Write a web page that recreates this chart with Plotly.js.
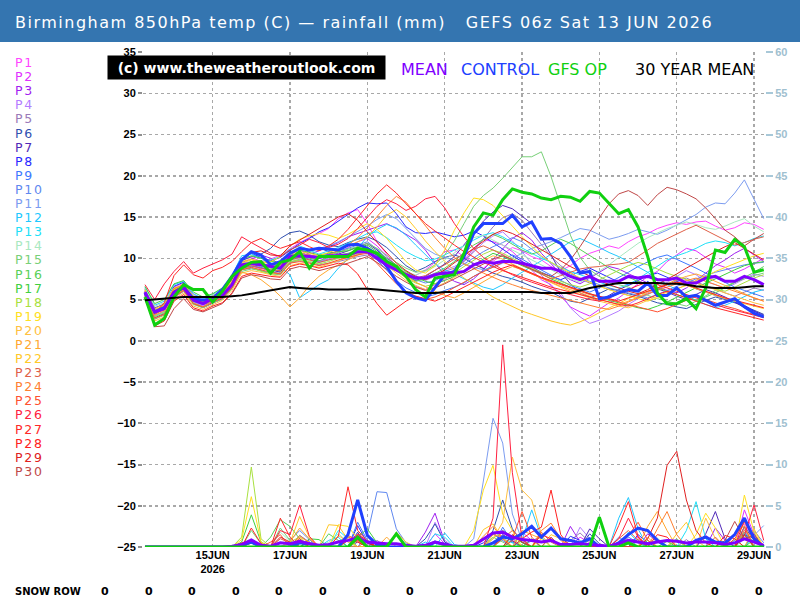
<!DOCTYPE html>
<html>
<head>
<meta charset="utf-8">
<script src="https://cdn.plot.ly/plotly-3.0.1.min.js"></script>
<style>body{margin:0;background:#fff;}#chart{width:800px;height:600px;}</style>
</head>
<body>
<div id="chart"></div>
<script>
// ---------- DATA ----------
const runStartUTC = [2026, 5, 13, 6]; // 13 JUN 2026 06z
const stepHours = 6;

const memberNames = ['P1','P2','P3','P4','P5','P6','P7','P8','P9','P10','P11','P12','P13','P14','P15',
  'P16','P17','P18','P19','P20','P21','P22','P23','P24','P25','P26','P27','P28','P29','P30'];
const memberColors = ['#ff44ff','#e030ff','#a020f0','#b47cff','#9a7ab8','#3050b0','#5028b8','#2828ff','#3c78ff','#6088f0',
  '#7c9cf0','#20c8ff','#20e0f8','#a8e8c0','#78d078','#58d058','#40d040','#a8e040','#ffe020','#ffc040',
  '#ffa830','#ffc828','#e06048','#ff8030','#ff5030','#ff2040','#ff2828','#ff2020','#e02020','#c04848'];

// 850hPa temperature (C), 6-hourly, 65 values each
const tP1 = [6.2,3.8,4.1,6.5,7.0,5.6,5.0,5.4,6.1,7.5, 9.8,10.1,9.6,9.9,10.4,11.2,11.9,12.5,13.0,13.6, 14.8,15.5,15.9,14.2,12.0,10.5,9.0,8.1,7.9,8.6, 9.5,10.8,11.0,10.2,9.4,8.8,9.6,10.4,11.3,10.9, 10.2,9.8,9.0,8.5,9.1,10.0,10.6,11.0,11.5,11.2, 12.0,12.6,13.0,13.6,14.0,14.3,14.1,14.4,14.5,13.9, 13.4,13.7,14.3,14.1,13.5];
const tP2 = [5.5,3.0,3.6,5.2,6.0,4.6,4.2,4.8,5.2,6.5, 8.7,9.2,8.8,8.4,8.1,9.5,9.9,10.3,9.7,9.9, 10.6,11.3,12.0,12.4,11.5,10.2,9.0,7.6,6.6,6.2, 6.8,7.4,8.3,9.8,11.2,12.3,12.0,11.6,10.8,9.7, 8.5,7.4,6.8,5.5,4.1,3.5,3.0,3.8,4.6,5.2, 6.0,6.9,7.8,8.4,9.6,10.4,11.2,10.9,10.1,9.3, 8.9,8.2,8.7,9.4,10.0];
const tP3 = [6.0,3.4,3.7,5.8,6.7,5.1,4.4,4.7,5.6,7.2, 9.5,9.9,10.4,10.0,9.2,10.6,11.0,10.5,10.9,11.4, 11.9,12.6,13.0,13.4,13.8,14.2,13.6,12.9,12.2,11.0, 9.4,8.0,7.2,6.8,7.5,8.6,9.9,11.2,12.4,13.1, 12.2,10.6,9.3,8.1,7.4,6.9,7.6,8.3,9.0,8.7, 8.1,7.6,7.0,6.5,6.1,5.8,6.4,7.3,8.2,9.1, 9.8,10.6,11.2,10.4,9.6];
const tP4 = [5.6,3.2,4.0,6.1,6.2,4.7,4.3,5.3,5.8,7.0, 9.0,9.1,8.7,8.9,9.3,10.0,10.1,9.8,9.6,10.0, 10.2,10.0,10.5,11.0,10.1,9.4,8.8,8.2,7.9,7.3, 7.8,8.6,9.0,9.6,10.8,11.9,12.7,13.2,12.1,10.8, 9.3,7.9,6.6,5.8,4.0,2.9,2.1,2.5,3.1,3.6, 4.4,5.1,5.8,6.3,7.1,7.8,8.5,8.0,7.2,6.8, 6.3,6.9,7.6,8.1,7.8];
const tP5 = [6.1,3.9,4.5,6.3,6.6,5.3,4.9,5.5,5.9,6.9, 8.6,8.8,8.5,8.2,8.4,9.6,9.7,9.5,9.2,9.4, 9.6,9.9,10.2,10.4,9.8,9.0,8.4,7.9,7.5,7.7, 8.2,8.4,8.8,9.6,10.9,12.3,13.8,14.9,15.4,14.6, 13.1,11.7,10.2,9.1,8.3,7.5,7.0,6.6,6.2,5.9, 5.5,5.2,5.6,6.2,6.8,7.3,7.6,7.1,6.7,6.3, 5.8,5.4,5.9,6.4,6.1];
const tP6 = [5.8,3.6,4.3,6.0,6.5,5.0,4.6,5.2,5.7,7.4, 9.7,10.2,10.5,11.2,12.4,13.1,13.3,12.8,12.0,11.6, 11.4,11.9,12.3,12.6,12.1,11.3,10.2,9.1,8.4,8.9, 9.6,10.1,10.4,10.0,9.3,8.7,8.2,7.8,7.5,7.1, 6.6,6.2,5.9,5.3,4.8,4.6,5.2,5.8,6.3,6.1, 5.7,5.4,5.0,4.6,4.4,4.1,3.9,4.4,4.9,5.3, 5.0,4.6,4.2,3.7,3.2];
const tP7 = [5.4,2.8,3.3,5.5,6.3,4.5,4.0,4.6,5.1,6.4, 8.9,9.3,9.0,8.6,8.3,9.9,10.4,10.9,11.3,10.8, 10.5,10.9,11.4,11.8,11.0,9.8,8.7,7.9,7.3,7.8, 8.5,9.3,10.2,11.6,13.1,14.5,15.6,16.4,16.0,15.1, 14.2,12.5,10.4,8.3,6.9,5.8,5.3,4.8,5.5,6.2, 6.7,7.2,6.8,6.3,5.9,5.4,5.0,5.6,6.2,5.8, 5.3,4.7,4.0,3.6,3.1];
const tP8 = [6.3,4.0,4.4,6.6,7.1,5.4,4.8,5.0,5.9,7.6, 10.0,10.6,10.1,9.7,10.1,10.9,11.8,12.4,13.2,13.7, 14.5,15.2,16.1,16.7,16.6,16.7,15.4,13.8,13.1,13.0, 13.2,12.9,12.6,12.8,13.3,12.7,11.9,11.0,10.3,9.6, 8.9,8.3,7.8,7.4,7.9,8.4,8.8,8.2,7.6,7.1, 6.8,7.3,7.9,8.2,7.7,7.2,6.8,6.3,5.9,5.5, 5.1,4.7,4.3,3.6,2.8];
const tP9 = [5.7,3.3,3.8,5.9,6.4,4.8,4.4,5.0,5.5,6.6, 8.8,9.0,8.9,8.5,8.6,9.8,10.0,9.9,9.5,9.8, 10.0,10.3,10.6,10.9,9.8,8.5,7.3,6.4,5.8,5.3, 5.6,6.1,6.5,7.0,7.8,8.5,9.1,9.8,10.4,9.9, 9.2,8.6,8.0,7.3,6.7,6.3,5.9,6.4,7.0,7.7, 8.3,9.0,9.6,10.1,10.4,9.9,9.3,8.8,8.2,7.6, 7.0,6.5,6.1,5.7,5.3];
const tP10 = [6.0,3.7,4.2,6.2,6.6,5.2,4.7,5.3,5.6,6.9, 9.3,9.6,9.4,9.1,9.0,10.4,10.6,10.4,10.2,10.5, 10.9,11.2,11.6,12.0,11.1,10.0,8.9,8.0,7.4,7.0, 7.3,7.9,8.5,9.3,10.1,10.8,11.4,11.9,12.5,12.0, 11.1,10.2,9.5,8.7,8.1,7.6,7.2,6.8,6.4,6.1, 5.8,5.5,5.2,5.6,6.1,6.6,7.0,7.5,7.9,8.3, 8.6,8.9,9.2,9.4,9.5];
const tP11 = [5.9,3.5,4.0,6.0,6.5,5.0,4.6,5.2,5.7,7.1, 9.2,9.5,9.3,9.2,9.4,10.3,10.5,10.8,11.2,11.5, 12.0,12.6,13.2,13.9,14.7,15.3,14.8,13.6,12.3,11.2, 10.5,10.1,9.8,9.4,8.9,8.6,8.9,9.4,10.0,10.6, 11.2,11.6,12.0,12.5,13.1,13.6,13.4,12.8,12.3,12.6, 13.0,13.5,13.2,12.9,13.4,14.0,14.6,15.3,16.2,16.7, 16.6,17.9,19.5,17.2,14.8];
const tP12 = [6.5,4.3,4.8,6.8,7.2,5.7,5.1,5.6,6.3,7.9, 10.3,10.5,10.0,9.4,8.9,8.0,5.2,6.0,6.8,7.4, 8.8,9.9,11.2,12.6,13.5,14.1,13.7,12.8,11.6,10.4, 9.3,8.6,8.1,7.5,7.0,6.5,6.2,6.8,7.6,8.3, 8.9,9.7,10.5,11.3,12.0,12.4,11.9,11.3,10.7,10.2, 9.6,9.0,8.3,7.5,6.8,6.1,5.5,4.9,4.4,4.0, 4.3,4.8,5.4,5.9,6.2];
const tP13 = [5.6,3.0,3.5,5.7,6.4,4.8,4.5,5.4,5.8,7.0, 9.1,9.4,9.6,9.8,10.2,11.1,11.5,11.0,10.5,10.9, 11.3,11.8,12.4,13.0,13.2,12.5,11.6,10.8,10.2,9.7, 9.9,10.4,11.0,11.5,12.2,12.8,13.1,12.6,11.9,11.2, 10.6,10.0,9.5,8.9,8.4,8.0,7.6,7.1,6.7,6.4, 6.8,7.5,8.3,9.1,9.8,10.3,10.7,11.2,11.8,12.1, 11.9,11.5,11.9,12.4,12.7];
const tP14 = [6.4,4.2,4.6,6.4,6.8,5.5,5.0,5.6,6.0,7.3, 9.4,9.6,9.0,8.7,8.5,9.7,10.0,9.7,9.4,9.8, 10.1,10.4,10.9,11.3,10.6,9.7,8.9,8.3,8.0,8.4, 9.0,9.8,10.6,11.5,12.5,12.8,12.2,11.6,11.0,10.4, 9.8,9.1,8.5,8.0,7.5,7.1,7.7,8.4,9.2,10.1, 11.0,11.8,12.5,13.1,13.6,14.0,14.4,14.1,13.7,13.5, 13.9,14.4,14.8,13.9,13.2];
const tP15 = [5.2,2.6,3.1,5.3,6.0,4.4,4.0,4.6,5.0,6.3, 8.4,8.7,8.5,8.1,8.0,9.4,9.8,10.2,10.0,10.3, 10.7,11.1,11.4,11.8,11.2,10.3,9.5,8.8,8.3,8.5, 9.2,10.4,12.1,14.2,16.3,17.6,18.5,19.7,21.0,22.3, 22.3,22.9,19.9,16.2,12.8,10.1,8.6,7.8,7.2,6.8, 6.5,6.0,5.5,5.1,4.8,4.5,4.2,4.8,5.5,6.1, 6.6,7.1,7.5,7.9,8.2];
const tP16 = [5.9,3.4,4.0,6.1,6.9,5.3,4.7,5.1,5.4,6.7, 9.0,9.3,9.1,8.8,8.7,10.0,10.2,10.0,9.7,10.1, 10.4,10.6,11.0,11.2,10.5,9.5,8.7,7.9,7.2,7.5, 8.1,8.8,9.6,10.7,11.6,12.3,12.9,12.4,11.7,11.0, 10.5,10.9,11.6,12.3,11.8,11.1,10.3,9.6,8.8,8.2, 7.7,7.2,6.8,6.4,6.0,5.6,5.2,4.9,5.3,5.8, 6.4,7.0,7.6,8.3,9.0];
const tP17 = [6.6,4.5,5.0,6.9,7.3,5.9,5.3,5.7,6.4,7.8, 9.9,10.3,10.0,9.6,9.5,10.8,11.0,10.7,10.4,10.6, 10.8,10.9,11.3,11.6,10.8,9.9,9.2,8.4,7.7,7.2, 6.9,7.3,7.8,8.5,9.3,10.0,10.6,10.2,9.6,9.1, 8.6,8.1,7.5,7.0,6.5,6.1,5.7,5.3,4.9,4.6, 4.3,4.0,3.8,4.2,4.7,5.3,5.9,6.4,7.0,7.5, 8.1,8.6,9.1,9.4,9.6];
const tP18 = [5.3,2.9,3.4,5.6,6.1,4.6,4.1,4.9,5.3,6.6, 8.7,8.9,8.4,8.1,8.2,9.6,9.8,9.6,9.3,9.6, 10.0,10.2,10.6,10.9,10.2,9.3,8.4,7.6,7.0,6.6, 6.9,7.5,8.2,9.0,9.8,10.5,11.0,10.6,10.0,9.4, 8.8,8.2,7.7,7.2,6.8,6.5,6.9,7.4,8.0,8.6, 9.1,9.5,9.2,8.7,8.2,7.8,7.4,7.0,6.6,6.3, 6.0,6.5,7.1,7.6,8.0];
const tP19 = [6.1,3.7,4.3,6.2,6.9,5.4,4.8,5.4,6.0,7.3, 9.4,9.8,9.5,9.6,10.2,11.5,12.3,12.7,13.0,12.8, 12.4,12.9,13.5,14.2,13.5,12.4,11.0,9.6,8.6,8.2, 9.1,11.0,13.4,15.5,17.3,17.1,16.4,15.2,13.9,12.6, 11.4,10.3,9.5,8.8,8.2,7.6,7.1,6.6,6.2,5.8, 5.5,5.1,4.8,5.2,5.7,6.3,6.8,7.3,7.8,8.4, 8.9,9.4,9.9,10.3,10.6];
const tP20 = [5.0,2.4,2.9,5.0,5.8,4.2,3.8,4.4,4.9,6.1, 8.2,8.5,8.3,8.0,7.8,9.1,9.4,9.2,8.9,9.3, 9.7,10.1,10.4,10.8,10.0,9.1,8.1,7.3,6.7,6.2, 6.5,7.0,7.7,8.4,9.1,9.7,10.3,9.9,9.3,8.7, 8.2,7.6,7.0,6.5,6.0,5.6,5.2,4.8,4.5,4.2, 4.0,4.4,4.9,5.4,5.9,6.3,6.7,7.0,6.6,6.2, 5.8,5.4,5.0,4.6,4.3];
const tP21 = [5.7,3.1,3.6,5.4,6.2,4.9,4.5,5.1,5.7,6.9, 8.3,8.0,7.4,6.5,5.4,4.1,5.2,6.7,7.8,8.6, 9.2,9.8,10.3,11.0,10.4,9.5,8.6,7.8,7.1,6.5, 6.0,5.5,5.2,5.8,6.5,7.2,7.9,8.5,9.0,8.6, 8.1,7.6,7.1,6.6,6.2,5.8,5.4,5.0,4.7,4.4, 4.8,5.3,5.9,6.4,6.9,7.4,7.8,8.1,7.7,7.2, 6.7,6.2,5.7,5.2,4.8];
const tP22 = [6.2,3.9,4.4,6.4,6.7,5.2,4.7,5.3,5.9,7.2, 9.6,9.9,9.6,9.3,9.3,10.5,10.8,10.6,10.3,10.7, 11.1,11.5,12.0,12.6,13.8,15.2,15.9,15.0,13.6,12.1, 10.8,9.6,8.5,7.6,6.8,6.0,5.3,4.7,4.1,3.6, 3.2,2.8,2.4,2.1,1.9,2.3,2.8,3.4,4.0,4.6, 5.1,5.6,6.0,6.4,6.8,7.1,6.7,6.3,5.9,5.5, 5.1,4.8,4.5,4.2,3.9];
const tP23 = [5.5,3.2,3.8,5.9,6.6,5.0,4.4,4.9,5.3,6.6, 8.8,9.1,8.8,8.6,8.5,9.8,10.1,9.8,9.5,9.8, 10.1,10.3,10.7,11.1,10.4,9.6,8.9,8.2,7.6,7.9, 8.5,9.2,9.9,10.5,11.1,11.5,11.0,10.4,9.8,9.2, 8.6,8.0,7.5,7.9,8.3,8.7,8.9,9.0,9.2,9.3, 9.5,10.2,11.0,11.8,12.4,12.9,13.5,14.0,13.4,12.7, 12.1,11.6,11.9,12.3,12.6];
const tP24 = [6.0,3.6,4.1,6.3,6.8,5.2,4.6,5.2,5.8,7.0, 9.2,9.5,9.2,9.0,9.1,10.3,10.6,10.4,10.1,10.4, 10.9,11.6,12.5,13.7,15.1,16.4,17.5,16.8,15.4,13.9, 12.5,11.2,10.1,9.3,8.7,8.2,7.7,7.2,6.8,6.4, 6.1,5.8,5.5,5.2,4.9,4.6,4.3,4.0,3.8,4.2, 4.7,5.2,5.7,6.1,6.5,6.9,7.3,7.6,7.2,6.8, 6.4,6.0,5.6,5.2,4.8];
const tP25 = [5.4,2.7,3.2,5.3,6.1,4.5,4.1,4.7,5.2,6.4, 8.6,8.9,8.6,8.3,8.1,9.4,9.6,9.4,9.1,9.4, 9.8,10.1,10.4,10.6,9.4,8.1,6.9,6.0,5.4,5.0, 5.3,5.8,6.4,7.1,7.8,8.4,9.0,9.5,9.1,8.6, 8.1,7.6,7.2,6.8,6.4,6.0,5.6,5.3,5.0,4.7, 4.4,4.1,3.8,3.5,3.9,4.4,4.9,5.4,5.0,4.6, 4.2,3.9,3.5,3.2,2.9];
const tP26 = [6.8,5.0,6.9,8.4,9.6,8.2,8.8,9.3,9.8,10.5, 12.6,11.9,11.2,10.6,10.2,11.0,11.6,12.3,11.9,11.3, 11.7,12.4,13.6,14.9,16.3,17.1,16.6,15.8,16.3,17.2, 17.5,16.1,14.2,12.6,11.2,10.1,9.3,8.6,8.0,7.5, 7.1,6.7,6.3,5.9,5.6,5.3,5.0,4.8,5.2,5.7, 6.2,6.7,7.1,6.8,6.4,6.0,5.6,5.2,4.8,4.4, 4.0,3.7,3.4,3.1,2.8];
const tP27 = [5.8,3.3,4.6,7.9,9.2,8.0,7.6,8.5,8.9,9.6, 10.8,11.9,12.4,11.7,11.2,11.6,12.0,11.4,10.9,11.5, 12.3,13.5,14.9,16.4,17.8,18.9,17.9,16.6,15.4,14.2, 13.3,12.4,11.6,10.8,10.1,9.5,9.0,8.5,8.1,7.7, 7.3,6.9,6.5,6.2,5.9,5.6,5.3,5.0,4.7,4.4, 4.2,4.6,5.1,5.6,6.0,5.6,5.2,4.8,4.4,4.0, 3.7,3.4,3.1,2.8,2.5];
const tP28 = [5.1,1.8,2.4,4.8,5.6,4.0,3.6,4.2,4.6,5.8, 7.8,8.2,8.0,7.8,7.7,9.0,9.3,9.1,8.8,9.1, 9.4,9.2,8.1,6.2,4.5,3.1,3.9,4.8,5.4,5.1, 4.8,5.3,5.9,6.5,7.2,7.8,8.3,8.8,9.2,8.7, 8.2,7.7,7.3,6.9,6.5,6.1,5.7,5.4,5.1,4.8, 5.2,5.6,6.0,6.4,6.8,7.1,6.8,6.4,6.0,5.6, 5.2,4.9,4.6,4.3,4.0];
const tP29 = [5.8,3.4,4.0,6.0,6.7,5.1,4.6,5.3,5.9,7.5, 9.9,10.7,10.9,10.4,10.3,11.5,12.2,12.9,13.6,14.3, 15.0,15.4,14.6,13.2,11.9,10.6,9.4,8.5,7.8,7.4, 7.9,8.6,9.4,10.3,11.2,12.1,12.9,13.4,13.0,12.4, 11.7,11.0,10.3,9.6,9.0,8.4,7.8,7.3,6.8,6.4, 6.0,5.7,6.2,6.8,7.4,8.1,8.8,9.5,10.2,10.8, 11.4,11.9,11.2,10.5,9.8];
const tP30 = [5.6,1.7,1.8,3.9,5.1,3.8,3.5,4.0,4.5,5.7, 7.6,8.0,7.8,7.5,7.4,8.7,9.0,8.8,8.5,8.8, 9.1,9.4,9.8,10.2,9.5,8.6,7.8,7.1,6.5,6.1, 6.4,6.9,7.5,8.1,8.8,9.4,9.9,10.3,9.8,9.2, 8.7,8.2,7.8,8.6,9.8,11.4,13.2,14.9,16.6,17.8, 18.2,17.6,16.4,17.7,18.6,18.3,17.8,17.2,16.1,14.8, 13.4,12.6,11.5,12.3,13.0];

const tMean = [5.9,3.5,3.9,5.9,6.4,4.9,4.5,5.1,5.5,6.8, 9.2,9.4,9.2,9.0,8.8,10.2,10.3,10.2,10.1,10.3, 10.3,10.4,10.8,10.8,10.0,9.2,8.6,8.0,7.6,7.6, 8.0,8.2,8.2,8.4,9.2,9.6,9.4,9.6,9.6,9.4, 9.1,8.8,8.8,8.4,7.8,7.4,7.8,7.2,7.2,7.2, 7.8,7.6,7.8,7.4,7.4,7.6,7.0,7.0,7.6,7.8, 7.2,7.2,7.8,7.4,6.8];
const tControl = [5.8,3.5,4.0,5.8,6.5,5.1,4.9,5.1,6.2,7.8, 9.8,10.8,10.4,9.2,9.6,10.6,11.2,11.0,11.2,11.1, 11.0,11.6,11.7,11.2,10.5,9.0,7.2,5.8,5.2,4.9, 6.5,8.0,8.4,10.2,13.0,14.2,14.2,14.2,15.2,13.8, 14.4,12.3,12.4,11.8,10.2,8.2,8.4,5.1,5.3,5.8, 6.2,6.0,7.0,5.5,5.5,6.4,5.3,5.5,4.9,4.3, 4.7,5.1,4.1,3.3,2.9];
const tGfsOp = [5.3,1.9,2.7,5.3,6.8,6.2,6.2,4.7,6.0,7.8, 8.8,9.5,9.6,8.2,9.5,9.8,10.8,8.8,10.2,10.2, 10.2,10.2,11.2,11.0,10.6,9.6,9.0,7.8,6.2,5.3, 7.6,7.8,8.0,10.6,13.8,15.5,15.2,17.1,18.4,18.0, 17.8,17.3,17.1,17.5,17.4,16.9,18.1,17.9,16.7,15.4, 15.9,13.8,10.2,5.8,4.5,4.5,5.1,3.9,6.4,11.0, 10.7,12.3,11.4,8.3,8.6];
const t30YearMean = [4.9,5.0,5.1,5.2,5.3,5.3,5.3,5.3,5.3,5.4, 5.5,5.7,5.9,6.1,6.3,6.5,6.4,6.3,6.3,6.2, 6.2,6.2,6.3,6.3,6.2,6.1,6.0,5.9,5.8,5.8, 5.8,5.9,5.9,5.9,5.9,5.9,5.9,5.9,5.9,5.9, 5.9,5.8,5.8,5.8,5.8,6.1,6.4,6.6,6.8,7.0, 7.0,7.0,7.0,7.0,6.9,6.9,6.8,6.6,6.5,6.4, 6.4,6.4,6.5,6.6,6.6];

// Rainfall (mm per 6 h), 65 values each
const rP1 = [0,0,0,0,0,0,0,0,0,0, 0,0.5,0,0,0,0,0.6,0.3,0,0, 0,0.8,1.5,0.4,0,0,0,0,0,0, 0,0,0,0,0,0,0,2.0,1.0,0, 0,0,0,0,0,0,0,0,0,0, 0.6,1.2,0,0,0,0,0,0,0,0, 0,1.5,2.8,0.8,0];
const rP2 = [0,0,0,0,0,0,0,0,0,0, 0,0,0,0,0,0,0,0,0,0, 0,0,1.0,0,0,0,0,0,0,0, 1.6,0.4,0,0,0,0,0,0,0,1.8, 0.8,0,0,0,0,1.2,0.5,0,0,0, 0,0,0,0,0,0,0,0,1.4,0.6, 0,0,4.5,1.5,0];
const rP3 = [0,0,0,0,0,0,0,0,0,0, 0,0,0,0,0,0,0.8,0.5,0,0, 0,0,0,0,0,0,0,0,0,1.8, 4.1,0.6,0,0,0,0,0,0,0,0, 0,0,0,0,2.5,0.6,0,0,0,0, 0,0,1.6,0.6,0,0,0,0,0,2.3, 0.8,0,0,0,0];
const rP4 = [0,0,0,0,0,0,0,0,0,0, 0,0,0,0,0,0,0,0,0,0, 0,0,1.4,0.4,0,0,0,0,0,0, 3.0,0.8,0,0,0,0,0,0,0,0, 0,0,0,0,0,2.4,1.0,0,0,0, 0,0,0,1.0,0,0,0,0,0,0, 0,0,2.1,0,0];
const rP5 = [0,0,0,0,0,0,0,0,0,0, 0,0,0,0,0,0,0.5,0,0,0, 0,0,0,0,0.8,0,0,0,0,0, 0,0,0,0,0,0,0,1.5,0.6,0, 0,0,0,0,0.8,1.7,0.6,0,0,0, 0,0,0,0,0,0,0.9,0,0,0, 0,0,0,0,0];
const rP6 = [0,0,0,0,0,0,0,0,0,0, 0,0,0,0,0,0,0,0.6,0,0, 0,0,1.8,0,0,0,0,0,0,1.0, 2.8,0.6,0,0,0,0,2.0,5.7,2.2,0.6, 0,0,0,0,0,0,1.6,0.4,0,0, 0,0,0,0,0,0,0,0,0,0, 0,0,2.5,0.8,0];
const rP7 = [0,0,0,0,0,0,0,0,0,0, 0,0,0,0,0,0,0,0,0,0, 0,0,0.6,0,0,0,0,0,0,0, 0,0,0,0,0,0,0,1.5,0.8,0, 0,0,0,0,0,0,2.2,1.0,0,0, 0,0,0,0,0,0,0,0,1.6,4.3, 1.0,0,0,1.6,0];
const rP8 = [0,0,0,0,0,0,0,0,0,0, 0,0,0,0,0,0,0,0.9,0,0, 0,0,2.6,0.5,0,0,0,0,0,0, 0,0,0,0,0,0.5,1.6,0.8,0,0, 0,0,0,0,1.3,0.8,0,0,0,0, 0,1.5,0.5,0,0,0,0,0,0,0, 0,0,1.8,0,0];
const rP9 = [0,0,0,0,0,0,0,0,0,0, 0,0,0,0,0,0,1.4,0.6,0,0, 0,0,3.0,0.8,0,0,0,0,0,0, 0,0,0,0,0,0,0,2.4,0.6,0, 0,0,0,0,0,0,0,0,0,0, 1.2,0.5,0,0,0,0,0,0,0,0, 0,0.8,1.6,0,0];
const rP10 = [0,0,0,0,0,0,0,0,0,0, 0,0,0,0,0,0.8,2.0,0.9,0,0, 0,0,0,1.5,6.7,6.6,2.2,0.5,0,0, 0,0,0,0,0,0,0,0,0,0, 0.8,1.2,0,0,0,0,0,0,0,0, 0,0.7,0,0,0,0,0,0,0,0, 0,0,0,2.0,0.5];
const rP11 = [0,0,0,0,0,0,0,0,0,0, 0,0,0,0,0,0,0,0,0,0, 0,0,0,0,0,0,0,0,0,0, 0,0,0,0,1.0,8.0,15.6,12.6,4.0,0.8, 0,0,0,0,0,0,0,0,0,1.2, 0.4,0,0,0,0,0,0,0,0,0, 0,0,1.0,1.4,2.6];
const rP12 = [0,0,0,0,0,0,0,0,0,0, 0,0,0,0,0,0,0,0,0,0.8, 1.2,0,0,0,0,0,0,0,0,0.6, 0,1.7,0.3,0,0,0,0,0,0,0.8, 4.5,1.2,0,0,0,0,0,0,0,3.5, 6.0,2.2,0,0,0,0,0,0,0,0, 0,0,1.5,0,0];
const rP13 = [0,0,0,0,0,0,0,0,0,0, 0,0,0,0,0,0,0,0,0,0, 2.0,1.0,0,0,0,0,0,0,0,0, 1.6,1.2,0,0,0,0,0,1.0,0.5,0, 0,0,0,0,0,0,0,0,0,0, 1.8,0.6,0,0,0,0,2.0,5.5,1.0,0, 0,0,0,1.2,0];
const rP14 = [0,0,0,0,0,0,0,0,0,0, 0,0,0,0,1.8,0.7,0,0,0,0.6, 1.6,0.6,0,0,0,0,0,0,0,0, 0,0,0,0,0,0,0,0.9,0,0, 0,0,0,0,0,0.8,0,0,0,0, 0,0,0,1.1,0,0,0,0,0,0, 0,0,1.3,0,0];
const rP15 = [0,0,0,0,0,0,0,0,0,0, 0,2.0,0.4,0,2.3,0.8,0,0,0,0, 0.7,1.3,0,0,0,0,0,0,0,0, 0,0,0,0,0,0,1.2,0.6,0,0, 0,0,0,0,0,0,0.9,0,0,0, 0,0,0,0,0,1.0,0,0,0,0, 0,0,1.8,0.6,0];
const rP16 = [0,0,0,0,0,0,0,0,0,0, 0,0.8,0,1.2,3.3,2.5,1.0,0,0,1.6, 0.8,0,0,0,0,0,0,0,0,0, 0,0,0,0,0,0,0,0,1.4,0.5, 0,0,0,0,0,0,0,0,0,0, 0,0,0.8,0,0,0,0,0,0,0, 0,1.0,0,0,0];
const rP17 = [0,0,0,0,0,0,0,0,0,0, 0.6,3.9,0.6,0,0,0,0,1.0,0.9,0, 0,0,1.2,2.2,0.5,0,0,0,0,0, 0,0,0,0,0,0,0,0,0,0, 1.0,0,0,0,0,0,0,0,0,0, 0,0,0,0,0.7,0,0,0,0,0, 0,0,0,0.9,0];
const rP18 = [0,0,0,0,0,0,0,0,0,0, 1.2,9.7,1.0,0,0,0.6,1.2,0,0,0, 0,0,0.8,0,0,0,0,0,0,0, 0,0,0,0,0,0,1.0,2.0,1.2,0, 0,0,0,0,0,0,0,0,0,0, 0,0,0,0,0,0.8,0,0,0,0, 0,0,1.5,0,0];
const rP19 = [0,0,0,0,0,0,0,0,0,0, 0.9,6.1,0.6,0,0,0,0,0,0,0, 2.7,2.5,1.0,0,0,0,0,0,0,0, 0,0,0,0,2.0,6.9,9.9,4.0,2.0,0, 0,1.0,0,0,0,0,0,0,0,0, 0,0,0,0,0,0,0,1.5,4.1,2.3, 0,0,6.3,1.8,0];
const rP20 = [0,0,0,0,0,0,0,0,0,0, 0,0,0,0,0,0,1.2,0.6,0,0, 1.4,0.6,0,0,0,0,1.8,0.6,0,0, 0,0,0,0,0,0,1.0,3.0,10.9,6.9, 5.7,1.5,0,0,0,0,0,0,0,0, 0,0,1.2,0,0,0,0,0,3.5,1.0, 0,0,0,0,0];
const rP21 = [0,0,0,0,0,0,0,0,0,0, 0,0,0,0,0,0.6,2.3,1.0,0,0, 0,0,0,0,0,1.2,0,0,0,0, 0,0,0,0,0,0,1.5,1.2,0,2.0, 1.5,1.0,2.4,0.8,0,0,0,0,0,0, 0,0,2.5,4.3,2.0,0,0,0,0,0, 0,1.6,2.6,0,0];
const rP22 = [0,0,0,0,0,0,0,0,0,0, 0,0,0,0,0,0.5,3.7,1.2,0,2.7, 2.6,0.9,0,0,0,0,0,0,0,0, 0,0,0,0,0,2.1,2.8,1.0,0,0, 0,0,1.5,1.0,0,0,0,0,0,0, 0,0,0,0,0,1.6,3.0,0.8,0,0, 0,0,0,2.2,0];
const rP23 = [0,0,0,0,0,0,0,0,0,0, 0,0,0,0,1.0,0.5,0,0,0,0, 0,0,0,0.8,0,0,0,0,0,0, 0,0,0,0,0,0,0,1.0,2.0,0.9, 0,1.8,0.6,0,0,0,0,0,0,1.0, 2.0,0.8,0,0,0,0,0,0,0,1.2, 0,0,2.4,0,0];
const rP24 = [0,0,0,0,0,0,0,0,0,0, 0,0.5,0,0,0,0,1.4,0.5,0,0, 0,1.2,0.8,0,0,0,0,0,0,0, 0,0,0,0,0,1.3,2.5,1.0,0,0, 0,2.0,2.9,1.0,0,0,0,0,0,0, 0,0,0,2.2,4.3,1.5,0,0,0,0, 0,0,2.0,1.0,0];
const rP25 = [0,0,0,0,0,0,0,0,0,0, 0,0,0,0.6,1.5,0,0,0,0,0, 0,1.4,0.8,0,0,0,0,0,0,0, 0,0,0,0,0,0,0,1.2,1.0,4.3, 1.2,0,0,0,0,0,0,0,0,0, 1.4,3.0,0.8,0,0,0,0,0,0,0, 0,1.0,3.0,1.2,0];
const rP26 = [0,0,0,0,0,0,0,0,0,0, 0,0,0,0,2.0,1.5,5.1,1.3,0,0, 0,0,1.6,0.7,0,0,0,0,0,0, 0,0,0,0,0,0,3.5,24.5,9.0,1.0, 0,0,0,0,0,0,0,0,0,1.0, 3.5,1.2,0,0,0,0,0,0,0,0, 0,0,1.4,5.1,0.8];
const rP27 = [0,0,0,0,0,0,0,0,0,0, 0,2.3,0.4,0,3.5,1.2,0,0,0,0, 1.3,7.3,2.0,0.7,0,0,0,0,0,0, 0,0,0,0,0,0,0,0,0,0, 0,1.5,1.0,0,0,0,0,0,0,2.6, 5.5,1.3,0,0,0,0,0,0,0,0, 0,0,3.3,0.8,0];
const rP28 = [0,0,0,0,0,0,0,0,0,0, 0.5,0.8,0,0,0,0,1.0,0,0,0, 0,0.8,0.6,0,0,0,0,0,0,0, 0,0,0,0,0,0,0,0,0,1.0, 1.8,2.4,6.9,1.5,0,0,0,0,0,0, 0,0,0,1.5,1.2,0,0,0,0,0, 1.4,1.0,0,0,0];
const rP29 = [0,0,0,0,0,0,0,0,0,0, 0,0,0,0,1.2,0.6,0,0,0,0, 0,0,1.4,0.5,0,0,0,0,0,0, 0,0,0,0,0,0,0,0,1.5,0.6, 0,0,0,0,0,0,0,0,0,0, 0,0,1.0,3.5,9.9,11.6,5.7,2.0,0.5,0, 0,0,1.5,0,0];
const rP30 = [0,0,0,0,0,0,0,0,0,0, 0,0.5,0,0,0,0,0.7,0,0,0, 0,0,0.9,0,0,0,0,0,0,0, 0,0,0,0,0,0,0,0,0.8,0, 0,0,1.2,0,0,0,0,0,0,0, 0,1.0,0,0,0,0,0,0,0,0, 0.8,3.1,1.0,1.4,0];

const rMean = [0,0,0,0,0,0,0,0,0,0.1, 0.3,0.85,0.2,0.1,0.5,0.4,0.7,0.4,0.2,0.3, 0.6,0.8,1.1,0.6,0.5,0.4,0.4,0.2,0.1,0.2, 0.6,0.3,0.1,0.1,0.2,0.9,1.7,1.8,1.2,0.9, 0.8,0.6,0.8,0.3,0.3,0.4,0.3,0.2,0.1,0.4, 0.8,0.6,0.4,0.6,0.8,0.7,0.5,0.6,0.6,0.5, 0.3,0.5,1.0,0.6,0.2];
const rControl = [0,0,0,0,0,0,0,0,0,0, 0.2,0.6,0,0,0,0,0.5,0.4,0,0, 0,1.5,5.7,1.4,0.3,0,0,0,0,0, 0.6,0.3,0,0,0,0,0.5,1.2,1.0,1.6, 2.5,1.2,2.3,1.0,0.8,0.5,1.0,0,0,0.5, 1.5,2.3,2.0,0.8,0,0,0,0.8,1.2,0.6, 0.5,1.5,3.5,1.0,0];
const rGfsOp = [0,0,0,0,0,0,0,0,0,0, 0,0,0,0,0,0,0,0,0,0, 0,0,1.2,0,0,0,1.6,0,0,0, 0,0,0,0,0,0,0,0,0,0, 0,0,0,0,0,0,0,3.6,0,0, 0.5,0,0,0,0,0,0,0,0,0, 0,0,0,0,0];

const tempMembers = [tP1,tP2,tP3,tP4,tP5,tP6,tP7,tP8,tP9,tP10,tP11,tP12,tP13,tP14,tP15,tP16,tP17,tP18,tP19,tP20,tP21,tP22,tP23,tP24,tP25,tP26,tP27,tP28,tP29,tP30];
const rainMembers = [rP1,rP2,rP3,rP4,rP5,rP6,rP7,rP8,rP9,rP10,rP11,rP12,rP13,rP14,rP15,rP16,rP17,rP18,rP19,rP20,rP21,rP22,rP23,rP24,rP25,rP26,rP27,rP28,rP29,rP30];

const tickDates = ['2026-06-15','2026-06-17','2026-06-19','2026-06-21','2026-06-23','2026-06-25','2026-06-27','2026-06-29'];
const tickLabels = ['15JUN<br>2026','17JUN','19JUN','21JUN','23JUN','25JUN','27JUN','29JUN'];
const tempTicks = [-25,-20,-15,-10,-5,0,5,10,15,20,25,30,35];
const rainTicks = [0,5,10,15,20,25,30,35,40,45,50,55,60];
const snowRow = [0,0,0,0,0,0,0,0,0,0,0,0,0,0,0,0];
const seriesLabels = ['MEAN','CONTROL','GFS OP','30 YEAR MEAN'];
const seriesLabelColors = ['#8000ff','#2040ff','#10d010','#000000'];

// ---------- BUILD ----------
const t0 = Date.UTC.apply(null, runStartUTC);
const times = tP1.map((_, i) => new Date(t0 + i * stepHours * 3600e3).toISOString().slice(0,16).replace('T',' '));

const W = 800, H = 600, L = 143, R = 35, T = 52, B = 53;
const pw = W - L - R, ph = H - T - B;
const px = x => (x - L) / pw;
const py = y => (H - B - y) / ph;

const traces = [];
for (let k = 0; k < 30; k++) {
  traces.push({x: times, y: rainMembers[k], yaxis: 'y2', type: 'scatter', mode: 'lines',
    line: {color: memberColors[k], width: 1}, hoverinfo: 'skip'});
}
for (let k = 0; k < 30; k++) {
  traces.push({x: times, y: tempMembers[k], yaxis: 'y', type: 'scatter', mode: 'lines',
    line: {color: memberColors[k], width: 1}, hoverinfo: 'skip'});
}
traces.push({x: times, y: rControl, yaxis: 'y2', mode: 'lines', line: {color: '#2040ff', width: 3}, hoverinfo: 'skip'});
traces.push({x: times, y: rMean, yaxis: 'y2', mode: 'lines', line: {color: '#8000ff', width: 3}, hoverinfo: 'skip'});
traces.push({x: times, y: rGfsOp, yaxis: 'y2', mode: 'lines', line: {color: '#10d010', width: 3}, hoverinfo: 'skip'});
traces.push({x: times, y: tControl, yaxis: 'y', mode: 'lines', line: {color: '#2040ff', width: 3}, hoverinfo: 'skip'});
traces.push({x: times, y: tMean, yaxis: 'y', mode: 'lines', line: {color: '#8000ff', width: 3}, hoverinfo: 'skip'});
traces.push({x: times, y: tGfsOp, yaxis: 'y', mode: 'lines', line: {color: '#10d010', width: 3}, hoverinfo: 'skip'});
traces.push({x: times, y: t30YearMean, yaxis: 'y', mode: 'lines', line: {color: '#000000', width: 2}, hoverinfo: 'skip'});

const annotations = [];
// banner
annotations.push({xref: 'paper', yref: 'paper', x: px(246.5), y: py(67.5), xanchor: 'center', yanchor: 'middle',
  text: '(c) www.theweatheroutlook.com', showarrow: false, bgcolor: '#000', borderpad: 0, width: 277, height: 23,
  font: {family: 'DejaVu Sans', size: 14, color: '#fff', weight: 'bold'}});
// series header
const headerX = [400, 460, 547, 634];
seriesLabels.forEach((s, i) => annotations.push({xref: 'paper', yref: 'paper', x: px(headerX[i]), y: py(69),
  xanchor: 'left', yanchor: 'middle', text: s, showarrow: false, borderpad: 0,
  font: {family: 'DejaVu Sans', size: 16, color: seriesLabelColors[i]}}));
// member list
memberNames.forEach((n, k) => annotations.push({xref: 'paper', yref: 'paper', x: px(14), y: py(62 + k * 14.1),
  xanchor: 'left', yanchor: 'middle', showarrow: false, borderpad: 0, height: 12,
  text: '<span style="letter-spacing:1.8px">' + n + '</span>',
  font: {family: 'DejaVu Sans', size: 12.5, color: memberColors[k]}}));
// snow row
annotations.push({xref: 'paper', yref: 'paper', x: px(14), y: py(591), xanchor: 'left', yanchor: 'middle',
  text: 'SNOW ROW', showarrow: false, borderpad: 0, font: {family: 'DejaVu Sans', size: 10, color: '#000', weight: 'bold'}});
snowRow.forEach((v, k) => annotations.push({xref: 'paper', yref: 'paper', x: px(105 + k * 43.6), y: py(591),
  xanchor: 'center', yanchor: 'middle', text: String(v), showarrow: false, borderpad: 0,
  font: {family: 'DejaVu Sans', size: 11, color: '#000', weight: 'bold'}}));

const layout = {
  width: W, height: H,
  margin: {l: L, r: R, t: T, b: B, pad: 0},
  paper_bgcolor: '#ffffff', plot_bgcolor: '#ffffff',
  showlegend: false,
  title: {
    text: '<span style="letter-spacing:1.5px">Birmingham 850hPa temp (C) — rainfall (mm)&nbsp;&nbsp;&nbsp;GEFS 06z Sat 13 JUN 2026</span>',
    font: {family: 'DejaVu Sans', size: 16, color: '#ffffff'},
    x: 15 / W, xanchor: 'left', xref: 'container',
    y: 1 - 22 / H, yanchor: 'middle', yref: 'container'
  },
  xaxis: {
    type: 'date', range: ['2026-06-13 04:46', '2026-06-29 06:47'],
    tickmode: 'array', tickvals: tickDates, ticktext: tickLabels,
    showgrid: true, gridcolor: '#a8a8a8', griddash: '3px,3px', gridwidth: 1.5,
    zeroline: false, showline: false, ticks: '',
    tickfont: {family: 'Liberation Sans', size: 11, color: '#000', weight: 'bold'}
  },
  yaxis: {
    range: [-25, 35], tickmode: 'array', tickvals: tempTicks,
    showgrid: true, gridcolor: '#a8a8a8', griddash: '3px,3px', gridwidth: 1.5,
    zeroline: false, showline: false, ticks: 'outside', ticklen: 4, tickwidth: 2, tickcolor: '#909090',
    tickfont: {family: 'Liberation Sans', size: 11, color: '#000', weight: 'bold'}
  },
  yaxis2: {
    range: [0, 60], overlaying: 'y', side: 'right', tickmode: 'array', tickvals: rainTicks,
    showgrid: false, zeroline: false, showline: false,
    ticks: 'outside', ticklen: 7, tickwidth: 2, tickcolor: '#a8c8d8',
    tickfont: {family: 'Liberation Sans', size: 11, color: '#9fc0d0', weight: 'bold'}
  },
  shapes: [{type: 'rect', xref: 'paper', yref: 'paper', x0: px(0), x1: px(W), y0: py(42), y1: py(0),
    fillcolor: '#3475b0', line: {width: 0}, layer: 'below'}],
  annotations: annotations
};

Plotly.newPlot('chart', traces, layout, {displayModeBar: false, staticPlot: true});
</script>
</body>
</html>
